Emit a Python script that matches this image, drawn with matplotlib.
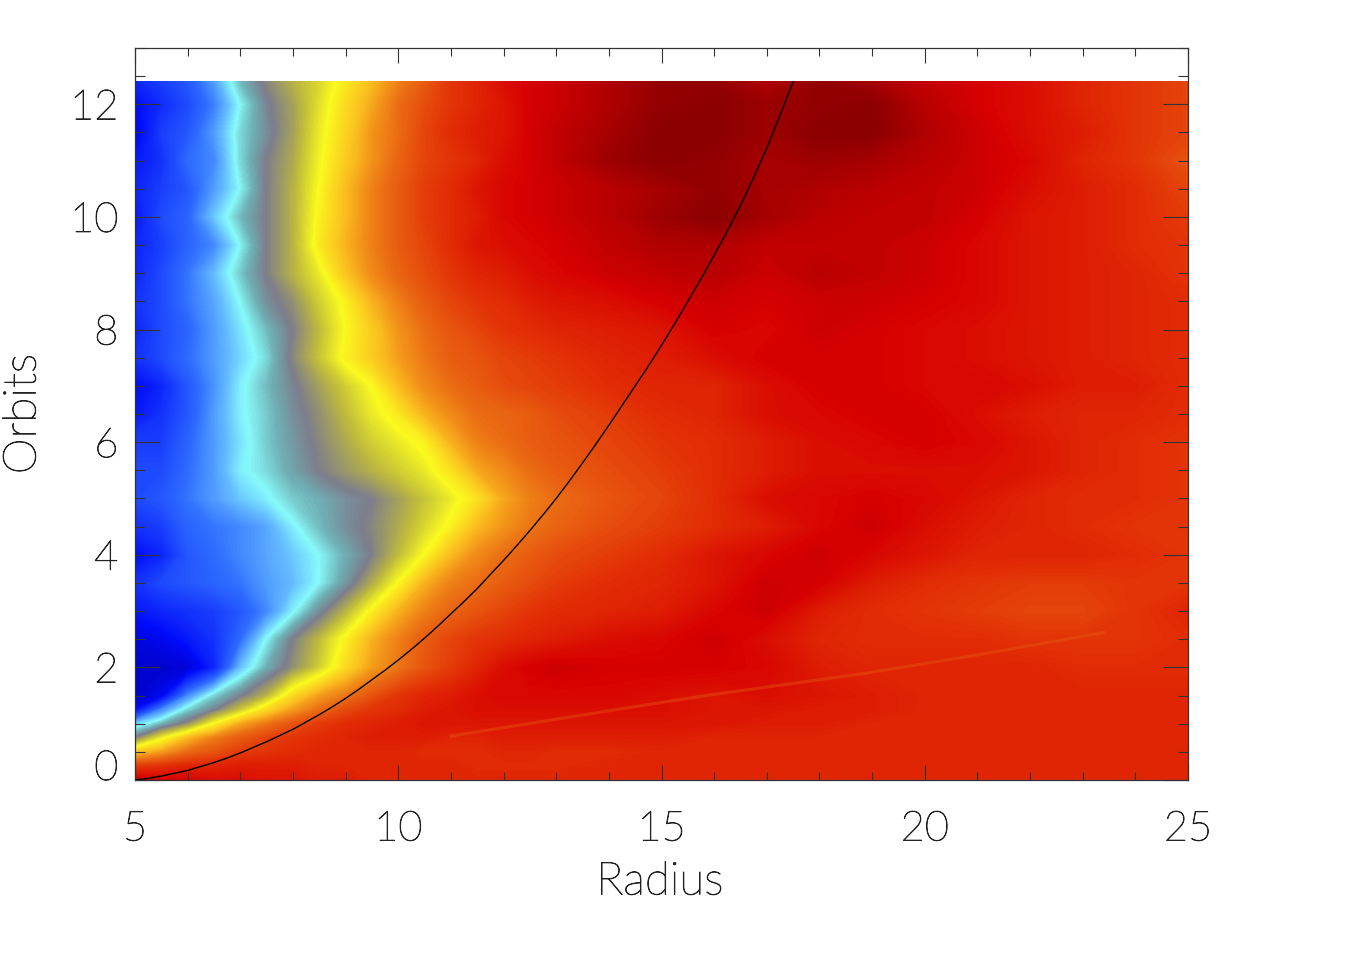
import matplotlib
matplotlib.use("Agg")
import matplotlib.pyplot as plt
import matplotlib.patheffects as pe
from matplotlib.colors import LinearSegmentedColormap
from matplotlib.ticker import MultipleLocator
import numpy as np

# grid, value 0 = darkest blue, 1 = darkest red
radius = [5, 5.5, 6, 6.5, 7, 7.5, 8, 8.5, 9, 9.5, 10, 10.5, 11, 11.5, 12, 12.5, 13,
          14, 15, 16, 17, 18, 19, 20, 21, 22, 23, 24, 25]
orbits = [0, 0.25, 0.5, 0.75, 1, 1.25, 1.5, 2, 2.5, 3, 3.5, 4, 4.5, 5, 5.5, 6, 6.5,
          7, 7.5, 8, 8.5, 9, 9.5, 10, 10.5, 11, 11.5, 12, 12.4]

field = [
    [.93, .92, .91, .90, .90, .89, .89, .88, .88, .87, .87, .87, .87, .87, .87, .87, .87, .87, .87, .87, .87, .87, .87, .87, .87, .87, .87, .87, .87],
    [.84, .85, .87, .87, .88, .88, .88, .87, .87, .87, .87, .87, .87, .86, .86, .86, .86, .87, .87, .87, .87, .87, .87, .87, .87, .87, .87, .87, .87],
    [.68, .73, .78, .81, .84, .85, .86, .87, .87, .87, .87, .86, .86, .86, .87, .87, .86, .86, .87, .87, .87, .87, .87, .87, .87, .87, .87, .87, .87],
    [.48, .60, .70, .76, .80, .83, .85, .86, .87, .88, .88, .88, .87, .87, .88, .88, .88, .88, .88, .87, .87, .87, .87, .87, .87, .87, .87, .87, .87],
    [.34, .42, .50, .62, .72, .77, .81, .84, .86, .87, .88, .89, .89, .89, .89, .89, .89, .89, .89, .89, .88, .88, .87, .87, .87, .87, .87, .87, .87],
    [.10, .28, .40, .47, .56, .66, .73, .78, .82, .85, .86, .88, .89, .90, .90, .90, .90, .90, .90, .89, .89, .88, .88, .87, .87, .87, .87, .87, .87],
    [.02, .08, .28, .40, .47, .54, .66, .73, .77, .81, .85, .87, .88, .90, .91, .91, .91, .91, .90, .89, .90, .89, .88, .87, .87, .87, .87, .87, .87],
    [.03, .02, .04, .14, .33, .43, .50, .57, .66, .73, .77, .81, .84, .87, .90, .92, .93, .92, .92, .92, .91, .88, .87, .87, .87, .87, .86, .86, .86],
    [.05, .08, .12, .16, .25, .38, .48, .55, .63, .71, .76, .80, .83, .85, .86, .87, .88, .90, .91, .93, .90, .87, .86, .86, .86, .85, .85, .85, .86],
    [.12, .14, .16, .18, .22, .28, .37, .46, .54, .63, .71, .76, .79, .81, .83, .85, .86, .87, .88, .91, .93, .88, .86, .85, .84, .83, .83, .85, .87],
    [.16, .20, .22, .24, .26, .30, .33, .38, .45, .53, .62, .71, .76, .78, .80, .82, .84, .86, .87, .89, .93, .92, .88, .86, .85, .84, .84, .85, .85],
    [.10, .14, .22, .25, .28, .31, .34, .38, .43, .48, .55, .62, .70, .75, .78, .80, .82, .84, .86, .89, .91, .93, .91, .89, .87, .87, .87, .86, .85],
    [.16, .18, .24, .26, .28, .31, .37, .42, .46, .49, .53, .58, .63, .70, .74, .77, .79, .82, .84, .86, .88, .91, .93, .90, .88, .87, .86, .85, .85],
    [.20, .22, .26, .30, .34, .37, .41, .43, .46, .48, .52, .56, .60, .65, .72, .76, .78, .81, .83, .86, .90, .91, .92, .91, .89, .87, .86, .86, .85],
    [.20, .20, .25, .30, .37, .40, .44, .48, .51, .54, .57, .60, .65, .72, .75, .78, .80, .82, .84, .86, .88, .90, .90, .90, .90, .89, .87, .86, .85],
    [.18, .18, .24, .30, .36, .41, .45, .49, .53, .57, .60, .63, .71, .76, .78, .80, .81, .83, .85, .86, .88, .90, .91, .92, .91, .89, .87, .86, .85],
    [.12, .16, .22, .30, .37, .41, .46, .50, .55, .60, .64, .71, .75, .78, .79, .80, .82, .84, .86, .87, .90, .91, .92, .92, .90, .88, .87, .87, .86],
    [.10, .14, .22, .29, .37, .42, .47, .52, .57, .62, .70, .75, .78, .80, .82, .83, .84, .86, .87, .87, .90, .92, .92, .91, .91, .90, .88, .88, .86],
    [.16, .20, .25, .30, .35, .40, .49, .56, .63, .68, .73, .77, .80, .81, .83, .84, .85, .87, .88, .90, .92, .92, .92, .91, .90, .89, .88, .87, .86],
    [.14, .20, .24, .30, .36, .42, .48, .55, .62, .68, .74, .78, .81, .83, .85, .86, .87, .88, .89, .92, .91, .93, .92, .91, .90, .89, .88, .87, .86],
    [.16, .20, .26, .31, .38, .46, .50, .57, .63, .71, .76, .80, .83, .85, .86, .88, .89, .90, .92, .93, .92, .93, .93, .92, .91, .89, .88, .87, .86],
    [.14, .20, .26, .33, .41, .48, .54, .60, .69, .75, .79, .82, .85, .87, .88, .90, .91, .93, .94, .95, .93, .95, .94, .93, .91, .89, .88, .87, .85],
    [.14, .18, .24, .28, .38, .48, .54, .64, .71, .76, .80, .83, .86, .89, .90, .91, .92, .94, .96, .96, .94, .94, .94, .93, .91, .89, .88, .86, .85],
    [.12, .20, .24, .34, .42, .48, .54, .63, .70, .76, .80, .84, .86, .88, .91, .92, .93, .95, .98, 1.0, .97, .95, .94, .94, .92, .89, .88, .86, .84],
    [.14, .18, .22, .30, .38, .48, .54, .62, .70, .76, .80, .84, .86, .89, .91, .92, .93, .95, .97, .99, .97, .96, .95, .94, .93, .90, .88, .86, .83],
    [.12, .16, .25, .28, .40, .48, .53, .61, .68, .74, .79, .83, .85, .87, .90, .92, .94, .98, 1.0, .99, .97, .98, .97, .95, .93, .91, .87, .85, .81],
    [.08, .18, .22, .30, .40, .46, .52, .60, .67, .74, .78, .83, .86, .88, .89, .92, .94, .97, 1.0, 1.0, .98, 1.0, 1.0, .96, .93, .90, .88, .85, .83],
    [.10, .15, .20, .27, .38, .47, .52, .59, .66, .72, .78, .82, .85, .87, .89, .92, .93, .96, .99, 1.0, .98, .99, 1.0, .95, .92, .90, .87, .85, .83],
    [.14, .18, .22, .30, .42, .49, .54, .58, .64, .70, .76, .80, .85, .87, .90, .92, .93, .96, .99, .99, .96, .99, .97, .94, .92, .90, .87, .85, .83],
]

# black curve
curve_r = [5, 5.25, 5.5, 5.75, 6, 6.25, 6.5, 6.75, 7, 7.25, 7.5, 7.75, 8, 8.25, 8.5, 8.75,
           9, 9.25, 9.5, 9.75, 10, 10.25, 10.5, 10.75, 11, 11.25, 11.5, 11.75, 12, 12.25,
           12.5, 12.75, 13, 13.25, 13.5, 13.75, 14, 14.25, 14.5, 14.75, 15, 15.25, 15.5,
           15.75, 16, 16.25, 16.5, 16.75, 17, 17.25, 17.5]
curve_o = [0, 0.03, 0.07, 0.12, 0.17, 0.24, 0.31, 0.39, 0.48, 0.58, 0.68, 0.79, 0.9, 1.03,
           1.16, 1.3, 1.45, 1.61, 1.78, 1.95, 2.13, 2.32, 2.52, 2.73, 2.95, 3.17, 3.4, 3.65,
           3.9, 4.16, 4.43, 4.71, 5.0, 5.31, 5.63, 5.96, 6.3, 6.65, 7.0, 7.35, 7.72, 8.1,
           8.5, 8.9, 9.32, 9.75, 10.2, 10.7, 11.22, 11.8, 12.4]

# faint light streak across the lower right
streak_r = [11, 13, 15.7, 18.9, 21, 23.4]
streak_o = [0.78, 1.08, 1.48, 1.9, 2.22, 2.62]

x_ticks = [5, 10, 15, 20, 25]
y_ticks = [0, 2, 4, 6, 8, 10, 12]

stops = [(0.00, (0, 0, 190)), (0.10, (0, 10, 250)), (0.25, (45, 105, 255)),
         (0.33, (100, 185, 255)), (0.38, (135, 250, 250)), (0.43, (110, 175, 180)),
         (0.48, (125, 125, 140)), (0.55, (190, 185, 60)), (0.62, (250, 250, 30)),
         (0.70, (250, 190, 30)), (0.78, (235, 110, 20)), (0.86, (225, 45, 5)),
         (0.92, (215, 0, 0)), (1.00, (140, 0, 0))]
cmap = LinearSegmentedColormap.from_list(
    "front", [(v, tuple(c / 255 for c in rgb)) for v, rgb in stops], N=512)

plt.rcParams['font.family'] = ['Lato', 'DejaVu Sans']
plt.rcParams['font.weight'] = 'light'
ink = '#222222'
thicker = [pe.withStroke(linewidth=0.6, foreground=ink)]

fig = plt.figure(figsize=(13.5, 9.75), dpi=100)
ax = fig.add_axes([135 / 1350, 1 - 780 / 975, 1053 / 1350, 732 / 975])

ax.contourf(radius, orbits, field, levels=np.linspace(0, 1, 257), cmap=cmap,
            vmin=0, vmax=1, antialiased=False)
ax.plot(streak_r, streak_o, color='#e85a14', lw=2.2, alpha=0.4)
ax.plot(curve_r, curve_o, color='black', lw=1.0)

ax.set_xlim(5, 25)
ax.set_ylim(0, 13)
ax.set_xticks(x_ticks)
ax.set_yticks(y_ticks)
ax.xaxis.set_minor_locator(MultipleLocator(1))
ax.yaxis.set_minor_locator(MultipleLocator(0.5))
ax.tick_params(axis='x', which='major', direction='in', top=True, length=11, width=0.8,
               color='#333333', labelsize=30, labelcolor=ink, pad=22)
ax.tick_params(axis='x', which='minor', direction='in', top=True, length=5.5, width=0.8, color='#333333')
ax.tick_params(axis='y', which='major', direction='in', right=True, length=18, width=0.8,
               color='#333333', labelsize=30, labelcolor=ink, pad=12)
ax.tick_params(axis='y', which='minor', direction='in', right=True, length=7, width=0.8, color='#333333')
for spine in ax.spines.values():
    spine.set_color('#333333')
    spine.set_linewidth(0.9)

for lab in ax.get_xticklabels() + ax.get_yticklabels():
    lab.set_path_effects(thicker)

# zero label sits on the axis line, like the original
ax.get_yticklabels()[0].set_verticalalignment('baseline')

fig.text(660 / 1350, 1 - 882 / 975, 'Radius', ha='center', va='center', fontsize=33, color=ink,
         path_effects=thicker)
fig.text(23 / 1350, 1 - 414 / 975, 'Orbits', ha='center', va='center', rotation=90, fontsize=33,
         color=ink, path_effects=thicker)

fig.savefig('out.png', dpi=100)
